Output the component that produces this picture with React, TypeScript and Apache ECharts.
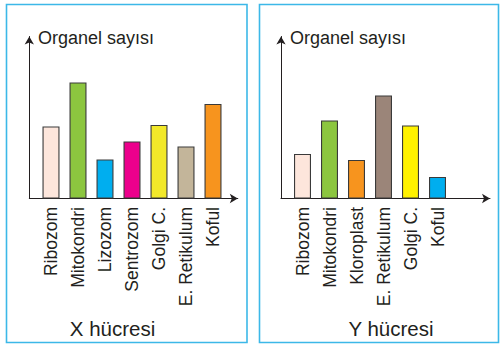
import React, { useEffect, useRef } from "react";
import * as echarts from "echarts";

const leftCategories = ["Ribozom", "Mitokondri", "Lizozom", "Sentrozom", "Golgi C.", "E. Retikulum", "Koful"];
const leftValues = [72, 116, 39, 57, 73.5, 52, 94.5];
const leftColors = ["#fde6dc", "#8cc63f", "#00aeef", "#ec008c", "#f2e829", "#c3b59a", "#f7941e"];

const rightCategories = ["Ribozom", "Mitokondri", "Kloroplast", "E. Retikulum", "Golgi C.", "Koful"];
const rightValues = [44.5, 78, 38.5, 103, 73, 21.5];
const rightColors = ["#fde6dc", "#8cc63f", "#f7941e", "#9b8579", "#fff200", "#00aeef"];

const yAxisName = "Organel sayısı";
const leftTitle = "X hücresi";
const rightTitle = "Y hücresi";

const FONT = "'Liberation Sans', Arial, Helvetica, sans-serif";
const INK = "#231f20";
const FRAME = "#3cb8e8";

export default function App() {
  const ref = useRef<HTMLDivElement>(null);
  useEffect(() => {
    if (!ref.current) return;
    const chart = echarts.init(ref.current, null, { renderer: "svg" });

    const barXAxis = (gridIndex: number, data: string[]) => ({
      type: "category",
      gridIndex,
      data,
      boundaryGap: true,
      axisLine: { show: false },
      axisTick: { show: false },
      splitLine: { show: false },
      axisLabel: {
        interval: 0,
        rotate: 90,
        margin: 8.5,
        fontSize: 17.5,
        fontFamily: FONT,
        color: INK,
      },
    });
    const barYAxis = (gridIndex: number) => ({
      type: "value",
      gridIndex,
      min: 0,
      max: 166,
      show: false,
    });
    const arrowLine = {
      show: true,
      symbol: ["none", "arrow"],
      symbolSize: [7, 8],
      lineStyle: { color: INK, width: 1 },
    };
    const frameAxis = (gridIndex: number) => ({
      type: "value",
      gridIndex,
      min: 0,
      max: 1,
      axisLine: arrowLine,
      axisTick: { show: false },
      axisLabel: { show: false },
      splitLine: { show: false },
    });

    const barSeries = (idx: number, values: number[], colors: string[]) => ({
      type: "bar",
      xAxisIndex: idx,
      yAxisIndex: idx,
      barWidth: 17,
      data: values.map((v, i) => ({
        value: v,
        itemStyle: { color: colors[i], borderColor: "#3a3a3a", borderWidth: 1.1 },
      })),
    });

    chart.setOption({
      animation: false,
      grid: [
        { left: 37.5, top: 32.5, width: 189, height: 166 },
        { left: 29.3, top: 36.5, width: 208.5, height: 162 },
        { left: 289, top: 32.5, width: 162, height: 166 },
        { left: 281, top: 36.5, width: 209, height: 162 },
      ],
      xAxis: [
        barXAxis(0, leftCategories),
        frameAxis(1),
        barXAxis(2, rightCategories),
        frameAxis(3),
      ],
      yAxis: [barYAxis(0), frameAxis(1), barYAxis(2), frameAxis(3)],
      series: [
        barSeries(0, leftValues, leftColors),
        barSeries(2, rightValues, rightColors),
      ],
      graphic: [
        {
          type: "rect",
          shape: { x: 6.5, y: 4.5, width: 240.5, height: 338 },
          style: { fill: "none", stroke: FRAME, lineWidth: 1.6 },
          silent: true,
        },
        {
          type: "rect",
          shape: { x: 259.5, y: 4.5, width: 239, height: 338 },
          style: { fill: "none", stroke: FRAME, lineWidth: 1.6 },
          silent: true,
        },
        {
          type: "text",
          x: 38,
          y: 38,
          style: { text: yAxisName, fontSize: 18, fontFamily: FONT, fill: INK, verticalAlign: "middle" },
        },
        {
          type: "text",
          x: 290,
          y: 38,
          style: { text: yAxisName, fontSize: 18, fontFamily: FONT, fill: INK, verticalAlign: "middle" },
        },
        {
          type: "text",
          x: 112.5,
          y: 328,
          style: { text: leftTitle, fontSize: 20.5, fontFamily: FONT, fill: INK, align: "center", verticalAlign: "middle" },
        },
        {
          type: "text",
          x: 391,
          y: 328,
          style: { text: rightTitle, fontSize: 20.5, fontFamily: FONT, fill: INK, align: "center", verticalAlign: "middle" },
        },
      ],
    });
    return () => chart.dispose();
  }, []);
  return (
    <div
      ref={ref}
      style={{ position: "fixed", left: 0, top: 0, width: 500, height: 344, background: "#fff" }}
    />
  );
}
